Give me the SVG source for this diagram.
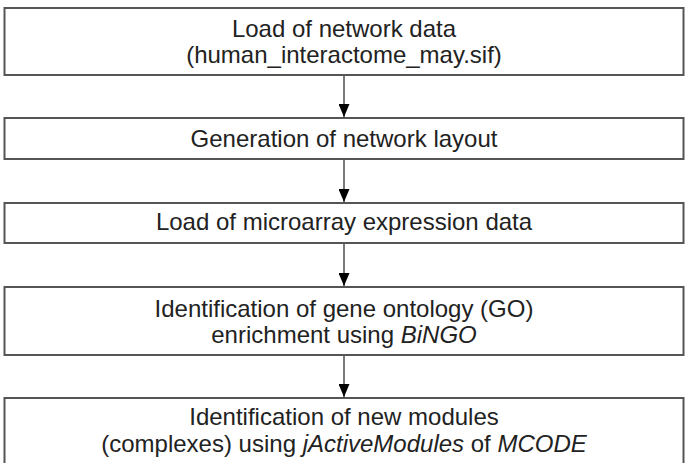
<svg xmlns="http://www.w3.org/2000/svg" width="689" height="463" viewBox="0 0 689 463">
<defs>
<style>
.box{fill:#fff;stroke:#555;stroke-width:2}
.t{font-family:"Liberation Sans",Arial,sans-serif;font-size:24px;fill:#222;text-anchor:middle}
.c{stroke:#333;stroke-width:1.3;fill:none}
</style>
<marker id="ah" markerWidth="13" markerHeight="11" refX="13" refY="5.5" orient="auto" markerUnits="userSpaceOnUse" viewBox="0 0 13 11">
<path d="M0,0 L13,5.5 L0,11 Z" fill="#000"/>
</marker>
</defs>
<rect width="689" height="463" fill="#fff"/>
<g id="connectors">
<line class="c" x1="344" y1="75" x2="344" y2="117" marker-end="url(#ah)"/>
<line class="c" x1="344" y1="159" x2="344" y2="202" marker-end="url(#ah)"/>
<line class="c" x1="344" y1="243" x2="344" y2="286" marker-end="url(#ah)"/>
<line class="c" x1="344" y1="355" x2="344" y2="397" marker-end="url(#ah)"/>
</g>
<g id="n1">
<rect class="box" x="4.5" y="8" width="679" height="67"/>
<text class="t" x="344" y="37">Load of network data</text>
<text class="t" x="344" y="63">(human_interactome_may.sif)</text>
</g>
<g id="n2">
<rect class="box" x="4.5" y="118" width="679" height="41"/>
<text class="t" x="344" y="147">Generation of network layout</text>
</g>
<g id="n3">
<rect class="box" x="4.5" y="203" width="679" height="40"/>
<text class="t" x="344" y="230">Load of microarray expression data</text>
</g>
<g id="n4">
<rect class="box" x="4.5" y="287" width="679" height="68"/>
<text class="t" x="344" y="317">Identification of gene ontology (GO)</text>
<text class="t" x="344" y="343">enrichment using <tspan font-style="italic">BiNGO</tspan></text>
</g>
<g id="n5">
<rect class="box" x="4.5" y="398" width="679" height="80"/>
<text class="t" x="344" y="425">Identification of new modules</text>
<text class="t" x="344" y="452">(complexes) using <tspan font-style="italic">jActiveModules</tspan> of <tspan font-style="italic">MCODE</tspan></text>
</g>
</svg>
